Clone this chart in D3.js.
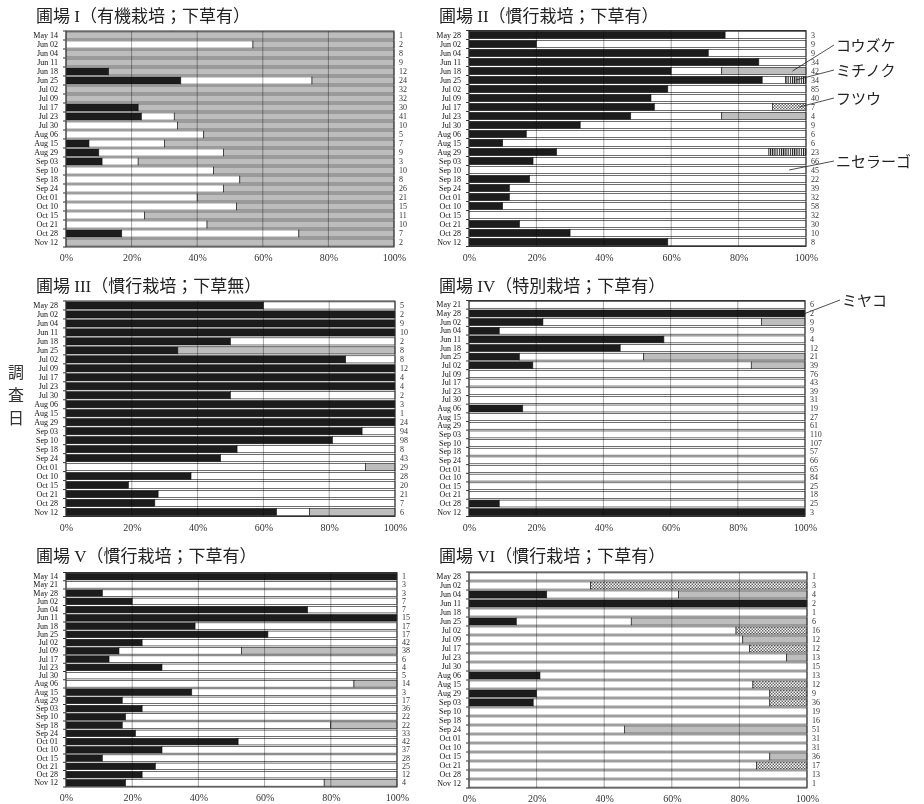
<!DOCTYPE html>
<html>
<head>
<meta charset="utf-8">
<script src="https://cdn.jsdelivr.net/npm/d3@7/dist/d3.min.js"></script>
<style>
  body { margin: 0; background: #fff; }
  svg { display: block; }
</style>
</head>
<body>
<div id="chart"></div>
<script>
// Series: ミヤコ (black), ニセラーゴ (white), コウズケ (gray), ミチノク (stripes), フツウ (checks)
const keys = ["miyako", "nisera", "kouzuke", "michinoku", "futsuu"];

// 圃場 I
const dates1 = ["May 14","Jun 02","Jun 04","Jun 11","Jun 18","Jun 25","Jul 02","Jul 09","Jul 17","Jul 23","Jul 30","Aug 06","Aug 15","Aug 29","Sep 03","Sep 10","Sep 18","Sep 24","Oct 01","Oct 10","Oct 15","Oct 21","Oct 28","Nov 12"];
const n1 = [1,2,8,9,12,24,32,32,30,41,10,5,7,9,3,10,8,26,21,15,11,10,7,2];
const black1 = [0,0,0,0,13,35,0,0,22,23,0,0,7,10,11,0,0,0,0,0,0,0,17,0];
const white1 = [0,57,0,0,0,40,0,0,0,10,34,42,23,38,11,45,53,48,40,52,24,43,54,0];
const gray1 = [100,43,100,100,87,25,100,100,78,67,66,58,70,52,78,55,47,52,60,48,76,57,29,100];

// 圃場 II
const dates2 = ["May 28","Jun 02","Jun 04","Jun 11","Jun 18","Jun 25","Jul 02","Jul 09","Jul 17","Jul 23","Jul 30","Aug 06","Aug 15","Aug 29","Sep 03","Sep 10","Sep 18","Sep 24","Oct 01","Oct 10","Oct 15","Oct 21","Oct 28","Nov 12"];
const n2 = [3,9,9,34,42,34,85,40,7,4,9,6,6,23,66,45,22,39,32,58,32,30,10,8];
const black2 = [76,20,71,86,60,87,59,54,55,48,33,17,10,26,19,0,18,12,12,10,0,15,30,59];
const white2 = [24,80,29,14,15,7,41,46,35,27,67,83,90,63,81,100,82,88,88,90,100,85,70,41];
const gray2 = [0,0,0,0,25,0,0,0,0,25,0,0,0,0,0,0,0,0,0,0,0,0,0,0];
const stripe2 = [0,0,0,0,0,6,0,0,0,0,0,0,0,11,0,0,0,0,0,0,0,0,0,0];
const check2 = [0,0,0,0,0,0,0,0,10,0,0,0,0,0,0,0,0,0,0,0,0,0,0,0];

// 圃場 III
const dates3 = dates2;
const n3 = [5,2,9,10,2,8,8,12,4,4,2,3,1,24,94,98,8,43,29,28,20,21,7,6];
const black3 = [60,100,100,100,50,34,85,100,100,100,50,100,100,100,90,81,52,47,0,38,19,28,27,64];
const white3 = [40,0,0,0,50,0,15,0,0,0,50,0,0,0,10,19,48,53,91,62,81,72,73,10];
const gray3 = [0,0,0,0,0,66,0,0,0,0,0,0,0,0,0,0,0,0,9,0,0,0,0,26];

// 圃場 IV
const dates4 = ["May 21","May 28","Jun 02","Jun 04","Jun 11","Jun 18","Jun 25","Jul 02","Jul 09","Jul 17","Jul 23","Jul 30","Aug 06","Aug 15","Aug 29","Sep 03","Sep 10","Sep 18","Sep 24","Oct 01","Oct 10","Oct 15","Oct 21","Oct 28","Nov 12"];
const n4 = [6,2,9,9,4,12,21,39,76,43,39,31,19,27,61,110,107,57,66,65,84,25,18,25,3];
const black4 = [0,100,22,9,58,45,15,19,0,0,0,0,16,0,0,0,0,0,0,0,0,0,0,9,100];
const white4 = [100,0,65,91,42,55,37,65,100,100,100,100,84,100,100,100,100,100,100,100,100,100,100,91,0];
const gray4 = [0,0,13,0,0,0,48,16,0,0,0,0,0,0,0,0,0,0,0,0,0,0,0,0,0];

// 圃場 V
const dates5 = ["May 14","May 21","May 28","Jun 02","Jun 04","Jun 11","Jun 18","Jun 25","Jul 02","Jul 09","Jul 17","Jul 23","Jul 30","Aug 06","Aug 15","Aug 29","Sep 03","Sep 10","Sep 18","Sep 24","Oct 01","Oct 10","Oct 15","Oct 21","Oct 28","Nov 12"];
const n5 = [1,3,3,7,7,15,17,17,42,38,6,4,5,14,3,17,36,22,22,33,42,37,28,25,12,4];
const black5 = [100,0,11,20,73,100,39,61,23,16,13,29,0,0,38,17,23,18,17,21,52,29,11,27,23,18];
const white5 = [0,100,89,80,27,0,61,39,77,37,87,71,100,87,62,83,77,82,63,79,48,71,89,73,77,60];
const gray5 = [0,0,0,0,0,0,0,0,0,47,0,0,0,13,0,0,0,0,20,0,0,0,0,0,0,22];

// 圃場 VI
const dates6 = dates2;
const n6 = [1,3,4,2,1,6,16,12,12,13,15,13,12,9,36,19,16,51,31,31,36,17,13,1];
const black6 = [0,0,23,100,0,14,0,0,0,0,0,21,0,20,19,0,0,0,0,0,0,0,0,0];
const white6 = [100,36,39,0,100,34,79,81,83,94,100,79,84,69,70,100,100,46,100,100,89,85,100,100];
const gray6 = [0,0,38,0,0,52,0,19,0,6,0,0,0,0,0,0,0,54,0,0,11,0,0,0];
const check6 = [0,64,0,0,0,0,21,0,17,0,0,0,16,11,11,0,0,0,0,0,0,15,0,0];

const panels = [
  { title: "圃場 I（有機栽培；下草有）", dates: dates1, n: n1, s: { miyako: black1, nisera: white1, kouzuke: gray1 },
    x0: 66, x1: 394, top: 31, bottom: 247, tx: 36, ty: 22 },
  { title: "圃場 II（慣行栽培；下草有）", dates: dates2, n: n2, s: { miyako: black2, nisera: white2, kouzuke: gray2, michinoku: stripe2, futsuu: check2 },
    x0: 469, x1: 806, top: 30.5, bottom: 246.5, tx: 439, ty: 22 },
  { title: "圃場 III（慣行栽培；下草無）", dates: dates3, n: n3, s: { miyako: black3, nisera: white3, kouzuke: gray3 },
    x0: 66, x1: 395, top: 301, bottom: 516.5, tx: 36, ty: 292 },
  { title: "圃場 IV（特別栽培；下草有）", dates: dates4, n: n4, s: { miyako: black4, nisera: white4, kouzuke: gray4 },
    x0: 469, x1: 805, top: 300.5, bottom: 516.5, tx: 439, ty: 292 },
  { title: "圃場 V（慣行栽培；下草有）", dates: dates5, n: n5, s: { miyako: black5, nisera: white5, kouzuke: gray5 },
    x0: 66, x1: 397, top: 572.5, bottom: 787, tx: 36, ty: 562 },
  { title: "圃場 VI（慣行栽培；下草有）", dates: dates6, n: n6, s: { miyako: black6, nisera: white6, kouzuke: gray6, futsuu: check6 },
    x0: 469, x1: 807, top: 572, bottom: 788, tx: 439, ty: 562 }
];

// leader labels (panel index, label, row date, percent at the pointed bar, text position)
const callouts = [
  { p: 1, label: "コウズケ", date: "Jun 18", pct: 96, tx: 836, ty: 51 },
  { p: 1, label: "ミチノク", date: "Jun 25", pct: 97, tx: 836, ty: 76 },
  { p: 1, label: "フツウ", date: "Jul 17", pct: 98, tx: 836, ty: 104 },
  { p: 1, label: "ニセラーゴ", date: "Sep 10", pct: 95, tx: 836, ty: 167 },
  { p: 3, label: "ミヤコ", date: "May 28", pct: 100, tx: 842, ty: 306 }
];

const serif = "'Liberation Serif','Times New Roman',serif";
const jp = "'Liberation Serif','Noto Sans CJK JP',serif";

const svg = d3.select("#chart").append("svg")
  .attr("width", 924).attr("height", 804);

const defs = svg.append("defs");
const stripes = defs.append("pattern").attr("id", "stripes")
  .attr("patternUnits", "userSpaceOnUse").attr("width", 2.2).attr("height", 4);
stripes.append("rect").attr("width", 2.2).attr("height", 4).attr("fill", "#fff");
stripes.append("rect").attr("width", 1.1).attr("height", 4).attr("fill", "#111");

const checks = defs.append("pattern").attr("id", "checks")
  .attr("patternUnits", "userSpaceOnUse").attr("width", 3).attr("height", 3);
checks.append("rect").attr("width", 3).attr("height", 3).attr("fill", "#fff");
checks.append("rect").attr("width", 1.5).attr("height", 1.5).attr("fill", "#666");
checks.append("rect").attr("x", 1.5).attr("y", 1.5).attr("width", 1.5).attr("height", 1.5).attr("fill", "#666");

const fills = { miyako: "#1c1c1c", nisera: "#ffffff", kouzuke: "#bdbdbd", michinoku: "url(#stripes)", futsuu: "url(#checks)" };

const scales = [];

panels.forEach((p, pi) => {
  const g = svg.append("g");
  const rows = p.dates.map((d, i) => {
    const r = { date: d };
    keys.forEach(k => r[k] = p.s[k] ? p.s[k][i] : 0);
    return r;
  });
  const stacked = d3.stack().keys(keys)(rows);

  const x = d3.scaleLinear().domain([0, 100]).range([p.x0, p.x1]);
  const y = d3.scaleBand().domain(p.dates).range([p.top, p.bottom])
    .paddingInner(0.2).paddingOuter(0.1);
  scales[pi] = { x, y };

  // bars
  g.append("g").selectAll("g")
    .data(stacked)
    .join("g")
    .attr("fill", d => fills[d.key])
    .selectAll("rect")
    .data(d => d.filter(v => v[1] - v[0] > 0))
    .join("rect")
    .attr("x", d => x(d[0]))
    .attr("y", d => y(d.data.date))
    .attr("width", d => x(d[1]) - x(d[0]))
    .attr("height", y.bandwidth())
    .attr("stroke", "#111")
    .attr("stroke-width", 0.6);

  // vertical gridlines
  g.append("g").selectAll("line")
    .data([20, 40, 60, 80])
    .join("line")
    .attr("x1", d => x(d)).attr("x2", d => x(d))
    .attr("y1", p.top).attr("y2", p.bottom)
    .attr("stroke", "#a6a6a6").attr("stroke-width", 1)
    .style("mix-blend-mode", "multiply");

  // frame
  g.append("rect")
    .attr("x", p.x0).attr("y", p.top)
    .attr("width", p.x1 - p.x0).attr("height", p.bottom - p.top)
    .attr("fill", "none").attr("stroke", "#333").attr("stroke-width", 1);

  // category boundary ticks
  g.append("g").selectAll("line")
    .data(d3.range(p.dates.length + 1))
    .join("line")
    .attr("x1", p.x0 - 3).attr("x2", p.x0)
    .attr("y1", i => p.top + i * y.step()).attr("y2", i => p.top + i * y.step())
    .attr("stroke", "#333").attr("stroke-width", 1);

  // date labels
  const ya = g.append("g")
    .attr("transform", `translate(${p.x0},0)`)
    .call(d3.axisLeft(y).tickSize(0).tickPadding(8));
  ya.select(".domain").remove();
  ya.selectAll("text").attr("font-family", serif).attr("font-size", 8).attr("fill", "#111");

  // sample counts
  const na = g.append("g")
    .attr("transform", `translate(${p.x1},0)`)
    .call(d3.axisRight(y).tickSize(0).tickPadding(5).tickFormat((d, i) => p.n[i]));
  na.select(".domain").remove();
  na.selectAll("text").attr("font-family", serif).attr("font-size", 8).attr("fill", "#333");

  // percent axis
  const xa = g.append("g")
    .attr("transform", `translate(0,${p.bottom})`)
    .call(d3.axisBottom(x).tickValues([0, 20, 40, 60, 80, 100]).tickFormat(d => d + "%").tickSize(0).tickPadding(7));
  xa.select(".domain").remove();
  xa.selectAll("text").attr("font-family", serif).attr("font-size", 10).attr("fill", "#333");

  // title
  svg.append("text")
    .attr("x", p.tx).attr("y", p.ty)
    .attr("font-family", jp).attr("font-size", 17).attr("fill", "#222")
    .text(p.title);
});

// y axis title
svg.append("g").selectAll("text")
  .data(["調", "査", "日"])
  .join("text")
  .attr("x", 16).attr("y", (d, i) => 378 + i * 23)
  .attr("text-anchor", "middle")
  .attr("font-family", "'Noto Sans CJK JP',sans-serif").attr("font-size", 16).attr("fill", "#333")
  .text(d => d);

// leader labels
callouts.forEach(c => {
  const { x, y } = scales[c.p];
  const px = x(c.pct), py = y(c.date) + y.bandwidth() / 2;
  svg.append("line")
    .attr("x1", c.tx - 2).attr("y1", c.ty - 6)
    .attr("x2", px).attr("y2", py)
    .attr("stroke", "#222").attr("stroke-width", 0.8);
  svg.append("text")
    .attr("x", c.tx).attr("y", c.ty)
    .attr("font-family", "'Noto Sans CJK JP',sans-serif").attr("font-size", 15).attr("fill", "#222")
    .text(c.label);
});
</script>
</body>
</html>
